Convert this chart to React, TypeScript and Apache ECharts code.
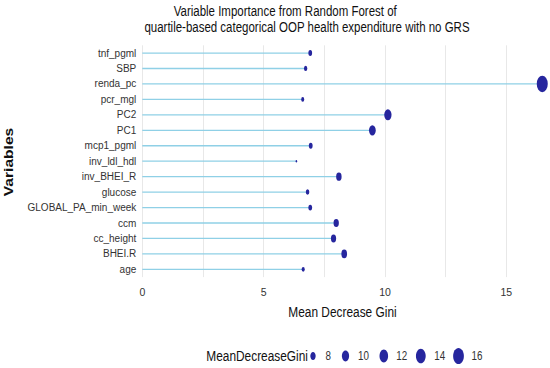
import React, { useEffect, useRef } from "react";
import * as echarts from "echarts";

const categories = [
  "age",
  "BHEI.R",
  "cc_height",
  "ccm",
  "GLOBAL_PA_min_week",
  "glucose",
  "inv_BHEI_R",
  "inv_ldl_hdl",
  "mcp1_pgml",
  "PC1",
  "PC2",
  "pcr_mgl",
  "renda_pc",
  "SBP",
  "tnf_pgml",
];
const meanDecreaseGini = [6.63, 8.32, 7.88, 7.99, 6.92, 6.81, 8.1, 6.35, 6.94, 9.48, 10.12, 6.61, 16.48, 6.73, 6.92];
const xTickLabels = [0, 5, 10, 15];
const legendBreaks = [8, 10, 12, 14, 16];

const FONT = "'Liberation Sans', Arial, sans-serif";
const ELLIPSE = "path://M50,0 A50,50 0 1,1 50,100 A50,50 0 1,1 50,0 Z";
const POINT_COLOR = "#26269e";
const SEG_COLOR = "#8fd0e6";
const NARROW = 0.82;

const vMin = Math.min(...meanDecreaseGini);
const vMax = Math.max(...meanDecreaseGini);
const sizeOf = (v: number): [number, number] => {
  const s = Math.sqrt(Math.max(0, (v - vMin) / (vMax - vMin)));
  return [1.5 + 9.5 * s, 2.5 + 14 * s];
};

const legendSymbolX = [313, 345.5, 383.8, 420.8, 458.5];
const legendLabelX = [328.3, 363.5, 401.7, 439.7, 477];

export default function App() {
  const ref = useRef<HTMLDivElement>(null);
  useEffect(() => {
    document.body.style.margin = "0";
    const chart = echarts.init(ref.current!, null, { renderer: "svg" });
    const legendGraphics: any[] = [];
    legendBreaks.forEach((b, i) => {
      const [w, h] = sizeOf(b);
      legendGraphics.push({
        type: "ellipse",
        shape: { cx: legendSymbolX[i], cy: 356, rx: w / 2, ry: h / 2 },
        style: { fill: POINT_COLOR },
      });
      legendGraphics.push({
        type: "text",
        x: legendLabelX[i],
        y: 356,
        scaleX: NARROW,
        style: {
          text: String(b),
          font: `12px ${FONT}`,
          fill: "#333",
          textAlign: "center",
          textVerticalAlign: "middle",
        },
      });
    });
    chart.setOption({
      animation: false,
      grid: { left: 142.3, right: -17, top: 45.3, bottom: 90.9, outerBoundsMode: "none", containLabel: false },
      xAxis: {
        type: "value",
        min: 0,
        max: 17.5,
        interval: 2.5,
        axisLine: { show: false },
        axisTick: { show: false },
        splitLine: { show: true, lineStyle: { color: "#e8e8e8", width: 1 } },
        axisLabel: {
          margin: 9.5,
          fontFamily: FONT,
          fontSize: 10.5,
          color: "#333",
          formatter: (v: number) => (xTickLabels.includes(v) ? String(v) : ""),
        },
      },
      yAxis: {
        type: "category",
        data: categories,
        axisLine: { show: false },
        axisTick: { show: false },
        splitLine: { show: false },
        axisLabel: { interval: 0, margin: 6, fontFamily: FONT, fontSize: 10, color: "#333" },
      },
      series: [
        {
          type: "bar",
          data: meanDecreaseGini,
          barWidth: 1.3,
          itemStyle: { color: SEG_COLOR },
          silent: true,
        },
        {
          type: "scatter",
          data: meanDecreaseGini,
          symbol: ELLIPSE,
          symbolSize: (v: number) => sizeOf(v),
          itemStyle: { color: POINT_COLOR, opacity: 1 },
          z: 5,
        },
      ],
      graphic: [
        {
          type: "text",
          x: 285.2,
          y: 11,
          scaleX: NARROW,
          style: {
            text: "Variable Importance from Random Forest of",
            font: `14px ${FONT}`,
            fill: "#111",
            textAlign: "center",
            textVerticalAlign: "middle",
          },
        },
        {
          type: "text",
          x: 307,
          y: 27,
          scaleX: NARROW,
          style: {
            text: "quartile-based categorical OOP health expenditure with no GRS",
            font: `14px ${FONT}`,
            fill: "#111",
            textAlign: "center",
            textVerticalAlign: "middle",
          },
        },
        {
          type: "text",
          x: 342.5,
          y: 312,
          scaleX: NARROW,
          style: {
            text: "Mean Decrease Gini",
            font: `14.5px ${FONT}`,
            fill: "#111",
            textAlign: "center",
            textVerticalAlign: "middle",
          },
        },
        {
          type: "text",
          x: 8.5,
          y: 162,
          rotation: Math.PI / 2,
          scaleX: 1.3,
          style: {
            text: "Variables",
            font: `bold 12px ${FONT}`,
            fill: "#111",
            textAlign: "center",
            textVerticalAlign: "middle",
          },
        },
        {
          type: "text",
          x: 308,
          y: 356,
          scaleX: NARROW,
          style: {
            text: "MeanDecreaseGini",
            font: `14.5px ${FONT}`,
            fill: "#111",
            textAlign: "right",
            textVerticalAlign: "middle",
          },
        },
        ...legendGraphics,
      ],
    });
    return () => chart.dispose();
  }, []);
  return <div ref={ref} style={{ width: 550, height: 368 }} />;
}
